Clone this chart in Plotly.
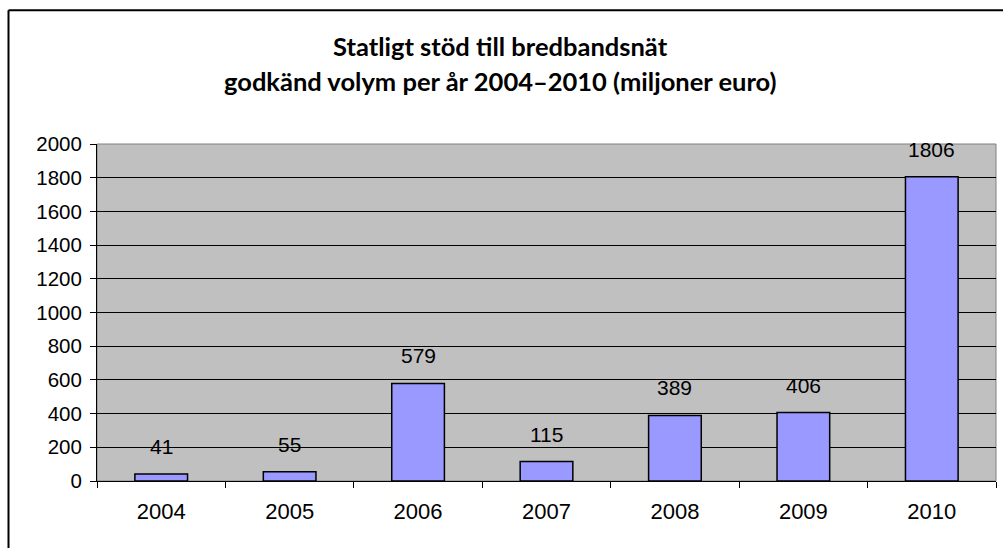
import plotly.graph_objects as go

years = ["2004", "2005", "2006", "2007", "2008", "2009", "2010"]
values = [41, 55, 579, 115, 389, 406, 1806]
y_ticks = [0, 200, 400, 600, 800, 1000, 1200, 1400, 1600, 1800, 2000]
title_lines = ["Statligt stöd till bredbandsnät",
               "godkänd volym per år 2004–2010 (miljoner euro)"]

W, H = 1003, 548
ml, mr, mt, mb = 97, 7, 143.5, 67
pw, ph = W - ml - mr, H - mt - mb

def px_x(p):
    return (p - ml) / pw

def px_y(p):
    return (H - mb - p) / ph

FAM = "Liberation Sans, Arial, sans-serif"
xtick_font = dict(family=FAM, size=22, color="black")
ytick_font = dict(family=FAM, size=20.5, color="black")
val_font = dict(family=FAM, size=21, color="black")
title_font = dict(family="Lato, sans-serif", size=25.5, color="black")

fig = go.Figure()
fig.add_trace(go.Bar(
    x=years, y=values, width=0.41,
    marker=dict(color="#9999ff", line=dict(color="black", width=1.5)),
    hoverinfo="x+y",
))

annotations = []
for i, v in enumerate(values):
    annotations.append(dict(x=i, y=v, xref="x", yref="y", text=str(v),
                            showarrow=False, yanchor="bottom", yshift=14,
                            font=val_font))
annotations.append(dict(x=px_x(500), y=px_y(45), xref="paper", yref="paper",
                        text="<b>" + title_lines[0] + "</b>", showarrow=False,
                        xanchor="center", yanchor="middle", font=title_font))
annotations.append(dict(x=px_x(500), y=px_y(80), xref="paper", yref="paper",
                        text="<b>" + title_lines[1] + "</b>", showarrow=False,
                        xanchor="center", yanchor="middle", font=title_font))

shapes = [
    # outer chart border: left and top edges (others fall outside the picture)
    dict(type="line", xref="paper", yref="paper",
         x0=px_x(8.5), x1=px_x(8.5), y0=px_y(H + 5), y1=px_y(9.5),
         line=dict(color="black", width=2), layer="above"),
    dict(type="line", xref="paper", yref="paper",
         x0=px_x(8.5), x1=px_x(W + 5), y0=px_y(9.5), y1=px_y(9.5),
         line=dict(color="black", width=2), layer="above"),
    dict(type="rect", xref="paper", yref="paper", x0=0, x1=1, y0=0, y1=1,
         line=dict(color="#808080", width=1), fillcolor="rgba(0,0,0,0)", layer="below"),
]

fig.update_layout(
    width=W, height=H,
    margin=dict(l=ml, r=mr, t=mt, b=mb, pad=0),
    paper_bgcolor="white",
    plot_bgcolor="#c0c0c0",
    showlegend=False,
    annotations=annotations,
    shapes=shapes,
    xaxis=dict(
        type="category", range=[-0.5, len(years) - 0.5], autorange=False,
        tickson="boundaries", ticks="outside", ticklen=6,
        tickcolor="black", showline=True, linecolor="black", linewidth=1,
        showgrid=False, tickfont=xtick_font, ticklabelstandoff=11, tickangle=0,
    ),
    yaxis=dict(
        range=[0, 2000], autorange=False, tickvals=y_ticks, ticks="outside", ticklen=6,
        tickcolor="black", showline=True, linecolor="black", linewidth=1,
        showgrid=True, gridcolor="black", gridwidth=1, zeroline=False,
        tickfont=ytick_font, ticklabelstandoff=4,
    ),
)

fig.write_html("out.html")
